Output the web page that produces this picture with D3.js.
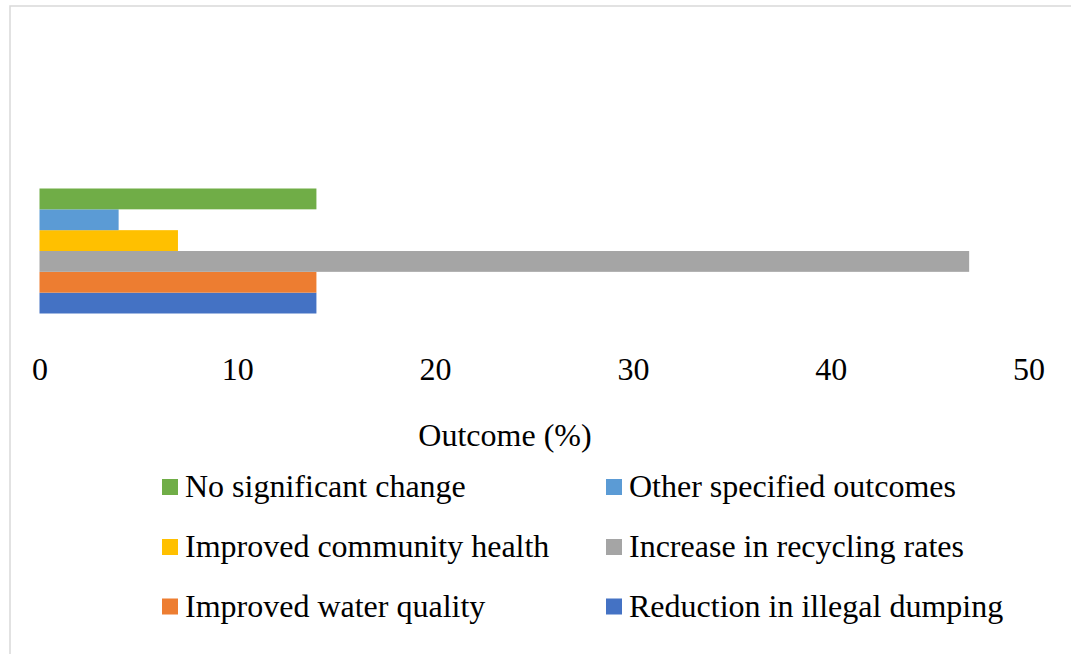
<!DOCTYPE html>
<html>
<head>
<meta charset="utf-8">
<script src="https://cdn.jsdelivr.net/npm/d3@7"></script>
<style>
  html, body { margin: 0; padding: 0; background: #fff; }
  svg { display: block; }
  text { font-family: "Liberation Serif", "Times New Roman", serif; fill: #000; }
</style>
</head>
<body>
<div id="chart"></div>
<script>
// Share of respondents reporting each outcome (%)
const series = [
  "Reduction in illegal dumping",
  "Improved water quality",
  "Increase in recycling rates",
  "Improved community health",
  "Other specified outcomes",
  "No significant change"
];
const values = [14, 14, 47, 7, 4, 14];
const colors = ["#4472C4", "#ED7D31", "#A5A5A5", "#FFC000", "#5B9BD5", "#70AD47"];
const xTicks = [0, 10, 20, 30, 40, 50];
const axisTitle = "Outcome (%)";

// Legend is listed top-to-bottom, two per row, in reverse series order
const legendOrder = [
  "No significant change", "Other specified outcomes",
  "Improved community health", "Increase in recycling rates",
  "Improved water quality", "Reduction in illegal dumping"
];

const W = 1071, H = 654;
const svg = d3.select("#chart").append("svg")
  .attr("width", W).attr("height", H);

// Chart frame
svg.append("rect")
  .attr("x", 10).attr("y", 6)
  .attr("width", W + 20).attr("height", H + 20)
  .attr("fill", "none")
  .attr("stroke", "#d9d9d9")
  .attr("stroke-width", 1.5);

const x = d3.scaleLinear().domain([0, 50]).range([39.5, 1028.5]);

// Series stacked bottom-up within the single category band
const y = d3.scaleBand()
  .domain(series)
  .range([313.5, 188.5])
  .paddingInner(0).paddingOuter(0);

const data = series.map((s, i) => ({ name: s, value: values[i], color: colors[i] }));

svg.append("g").selectAll("rect")
  .data(data)
  .join("rect")
  .attr("x", x(0))
  .attr("y", d => y(d.name))
  .attr("width", d => x(d.value) - x(0))
  .attr("height", y.bandwidth())
  .attr("fill", d => d.color);

// Value axis: labels only, no line or ticks
const axis = svg.append("g")
  .attr("transform", "translate(0,380)")
  .call(d3.axisBottom(x).tickValues(xTicks).tickSize(0).tickFormat(d3.format("d")));
axis.select(".domain").remove();
axis.selectAll("text")
  .attr("y", 0).attr("dy", null)
  .style("font-family", "'Liberation Serif', 'Times New Roman', serif")
  .style("font-size", "32px")
  .attr("fill", "#000");

svg.append("text")
  .attr("x", 505).attr("y", 446)
  .attr("text-anchor", "middle")
  .style("font-size", "32px")
  .text(axisTitle);

// Legend
const colorOf = d3.scaleOrdinal().domain(series).range(colors);
const legendCols = [162, 606];
const legendRows = [479, 539, 598.5];
const legend = svg.append("g").selectAll("g")
  .data(legendOrder)
  .join("g")
  .attr("transform", (d, i) => `translate(${legendCols[i % 2]},${legendRows[Math.floor(i / 2)]})`);
legend.append("rect")
  .attr("width", 16).attr("height", 16)
  .attr("fill", d => colorOf(d));
legend.append("text")
  .attr("x", 23).attr("y", 18)
  .style("font-size", "32px")
  .text(d => d);
</script>
</body>
</html>
